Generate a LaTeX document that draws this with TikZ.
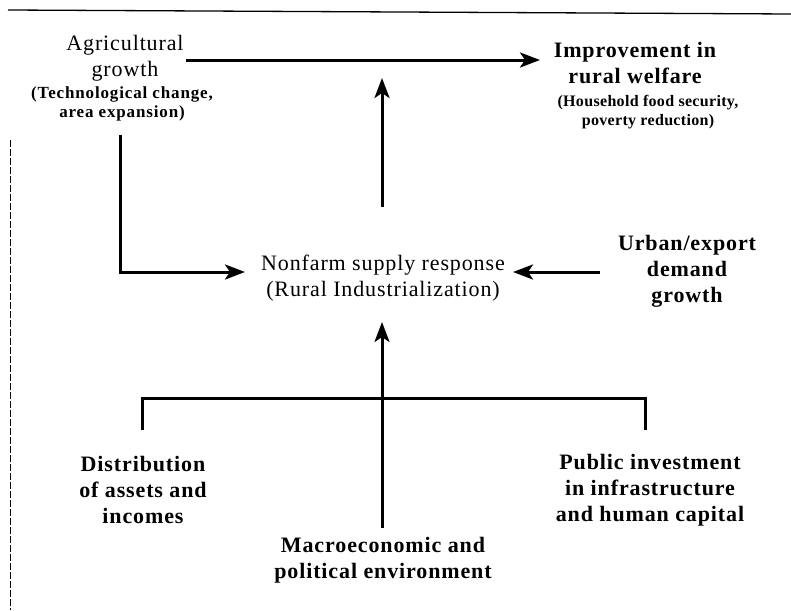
\documentclass[tikz,border=0pt]{standalone}
\usepackage{fontspec}
\setmainfont{Liberation Serif}[LetterSpace=4]
\newfontfamily\subfont{Liberation Serif}[LetterSpace=2]
\newfontfamily\subwidefont{Liberation Serif}[LetterSpace=5]
\usetikzlibrary{arrows.meta}
\begin{document}
\begin{tikzpicture}[x=1pt,y=-1pt,
  lbl/.style={align=center, font=\fontsize{22}{26}\selectfont, inner sep=0},
  lblb/.style={align=center, font=\fontsize{22}{26}\selectfont\bfseries, inner sep=0},
  sub/.style={align=center, font=\subfont\fontsize{16}{19}\selectfont\bfseries, inner sep=0},
  subw/.style={align=center, font=\subwidefont\fontsize{17}{19}\selectfont\bfseries, inner sep=0},
  arr/.style={line width=3pt, -{Stealth[length=20pt,width=15pt,inset=5pt]}},
  ln/.style={line width=3pt, line join=miter},
]
\useasboundingbox (0,0) rectangle (791,610);
% frame fragments of the scanned page
\draw[line width=1.3pt] (8,10) -- (791,14);
\draw[line width=0.6pt, dash pattern=on 7pt off 2pt] (10,140) -- (10,610);
% labels
\node[lbl]  (agr)  at (125,58)  {Agricultural\\growth};
\node[subw] (agrs) at (122,104) {(Technological change,\\area expansion)};
\node[lblb] (imp)  at (635,63)  {Improvement in\\rural welfare};
\node[sub]  (imps) at (648,112) {(Household food security,\\poverty reduction)};
\node[lbl]  (nf)   at (383,278) {Nonfarm supply response\\(Rural Industrialization)};
\node[lblb] (urb)  at (687,271) {Urban/export\\demand\\growth};
\node[lblb] (dist) at (143,490) {Distribution\\of assets and\\incomes};
\node[lblb] (pub)  at (650,490) {Public investment\\in infrastructure\\and human capital};
\node[lblb] (mac)  at (383,560) {Macroeconomic and\\political environment};
% connector end points
\coordinate (a1) at (186,60);  \coordinate (a2) at (540,60);
\coordinate (v1) at (382,207); \coordinate (v2) at (382,78);
\coordinate (l1) at (120,135); \coordinate (l2) at (245,272);
\coordinate (u1) at (600,272); \coordinate (u2) at (513,272);
\coordinate (c1) at (382,528); \coordinate (c2) at (382,322);
\coordinate (bl) at (142,430); \coordinate (br) at (645,430);
\coordinate (bm) at (382,398);
% connectors
\draw[arr] (a1) -- (a2);
\draw[arr] (v1) -- (v2);
\draw[arr] (l1) |- (l2);
\draw[arr] (u1) -- (u2);
\draw[arr] (c1) -- (c2);
\draw[ln] (bl) |- (bm) -| (br);
\end{tikzpicture}
\end{document}
